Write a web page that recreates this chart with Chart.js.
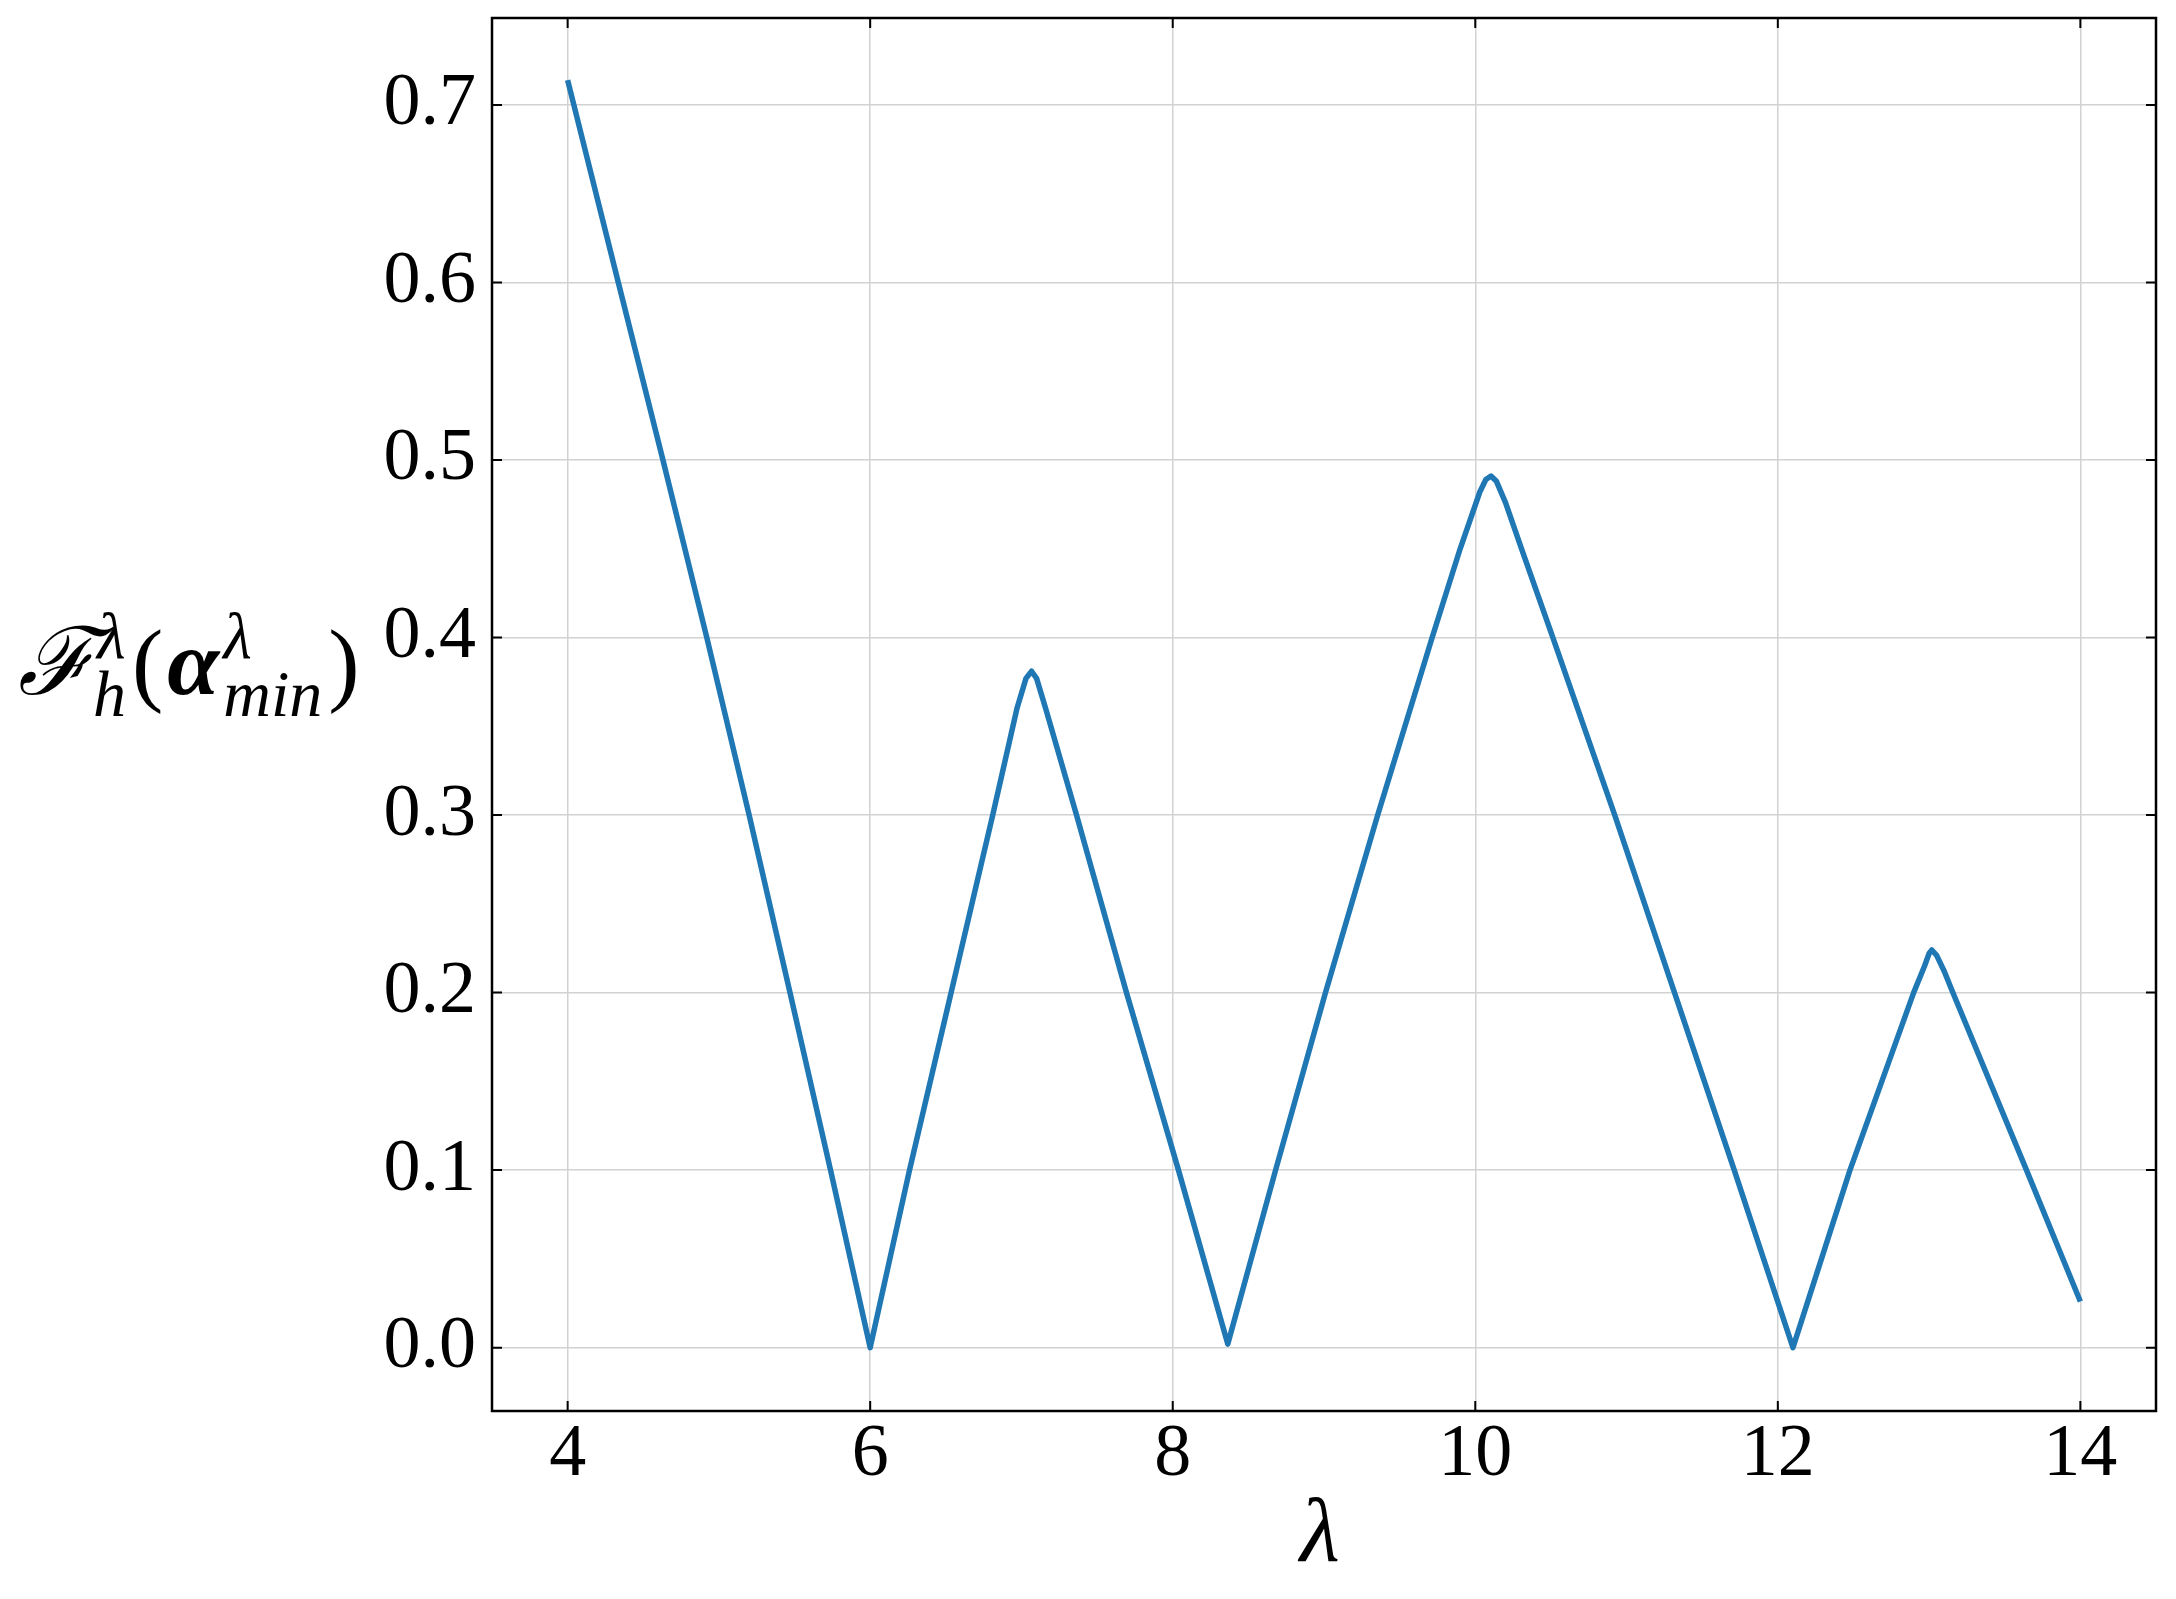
<!DOCTYPE html>
<html>
<head>
<meta charset="utf-8">
<script src="https://cdn.jsdelivr.net/npm/chart.js@4"></script>
<style>
  html, body { margin: 0; padding: 0; background: #fff; }
  #wrap { width: 2176px; height: 1599px; }
</style>
</head>
<body>
<div id="wrap"><canvas id="myLineChart" width="2176" height="1599"></canvas></div>
<script>
// values
const lambdaVals = [
  4.0, 4.335, 4.63, 4.92, 5.2, 5.47, 5.738, 6.0,
  6.26, 6.535, 6.81, 6.97, 7.03, 7.067, 7.1, 7.16,
  7.364, 7.694, 8.038, 8.364,
  8.68, 9.01, 9.355, 9.715, 9.9, 10.03, 10.07, 10.104, 10.14, 10.2,
  10.306, 10.513, 10.922, 11.317, 11.712, 12.1,
  12.477, 12.898, 12.97, 13.0, 13.018, 13.05, 13.1,
  13.157, 13.644, 14.0,
];
const fVals = [
  0.714, 0.6, 0.5, 0.4, 0.3, 0.2, 0.1, 0.0,
  0.1, 0.2, 0.3, 0.36, 0.377, 0.381, 0.377, 0.36,
  0.3, 0.2, 0.1, 0.002,
  0.1, 0.2, 0.3, 0.4, 0.45, 0.482, 0.489, 0.491, 0.488, 0.476,
  0.45, 0.4, 0.3, 0.2, 0.1, 0.0,
  0.1, 0.2, 0.215, 0.222, 0.224, 0.221, 0.212,
  0.2, 0.1, 0.026,
];
const xTicks = [4, 6, 8, 10, 12, 14];
const yTicks = [0.0, 0.1, 0.2, 0.3, 0.4, 0.5, 0.6, 0.7];

const serif = "'Liberation Serif', 'DejaVu Serif', serif";
const tickFont = { size: 74, family: serif };

// frame, inward tick marks and axis titles, matplotlib style
const framePlugin = {
  id: "frame",
  afterDraw(chart) {
    const ctx = chart.ctx;
    const a = chart.chartArea;
    const xs = chart.scales.x;
    const ys = chart.scales.y;
    ctx.save();
    ctx.strokeStyle = "#000";
    ctx.lineWidth = 2;
    xTicks.forEach((v) => {
      const px = xs.getPixelForValue(v);
      ctx.beginPath();
      ctx.moveTo(px, a.bottom); ctx.lineTo(px, a.bottom - 10);
      ctx.moveTo(px, a.top); ctx.lineTo(px, a.top + 10);
      ctx.stroke();
    });
    yTicks.forEach((v) => {
      const py = ys.getPixelForValue(v);
      ctx.beginPath();
      ctx.moveTo(a.left, py); ctx.lineTo(a.left + 10, py);
      ctx.moveTo(a.right, py); ctx.lineTo(a.right - 10, py);
      ctx.stroke();
    });
    ctx.lineWidth = 2.5;
    ctx.strokeRect(a.left, a.top, a.right - a.left, a.bottom - a.top);

    // x title
    ctx.fillStyle = "#000";
    ctx.textBaseline = "alphabetic";
    ctx.textAlign = "center";
    ctx.font = "italic 92px " + serif;
    ctx.fillText("λ", (a.left + a.right) / 2 - 4, 1561);

    // y title: F_h^λ(α_min^λ)
    ctx.textAlign = "left";
    const big = "94px " + serif;
    const small = "italic 66px " + serif;
    const base = 694;
    let x = 18;
    ctx.font = "italic " + big;
    ctx.fillText("ℱ", x, base);
    x += ctx.measureText("ℱ").width + 2;
    ctx.font = small;
    ctx.fillText("λ", x, base - 36);
    ctx.fillText("h", x - 4, base + 22);
    x += Math.max(ctx.measureText("λ").width, ctx.measureText("h").width - 4) + 6;
    ctx.font = big;
    ctx.fillText("(", x, base);
    x += ctx.measureText("(").width + 4;
    ctx.font = "italic bold " + big;
    ctx.fillText("α", x, base);
    x += ctx.measureText("α").width + 4;
    ctx.font = small;
    ctx.fillText("λ", x, base - 36);
    ctx.fillText("min", x, base + 22);
    x += ctx.measureText("min").width + 6;
    ctx.font = big;
    ctx.fillText(")", x, base);
    ctx.restore();
  },
};

const ctx = document.getElementById("myLineChart").getContext("2d");

const myLineChart = new Chart(ctx, {
  type: "line",
  data: {
    datasets: [
      {
        data: lambdaVals.map((v, i) => ({ x: v, y: fVals[i] })),
        borderColor: "#1f77b4",
        borderWidth: 5.5,
        pointRadius: 0,
        tension: 0,
        borderJoinStyle: "round",
        borderCapStyle: "butt",
        fill: false,
      },
    ],
  },
  options: {
    responsive: false,
    animation: false,
    layout: { padding: { top: 18, right: 20, left: 0, bottom: 0 } },
    plugins: {
      legend: { display: false },
      tooltip: { enabled: false },
    },
    scales: {
      x: {
        type: "linear",
        min: 3.5,
        max: 14.5,
        afterBuildTicks: (scale) => {
          scale.ticks = xTicks.map((v) => ({ value: v }));
        },
        afterFit: (scale) => {
          scale.height = 188;
          scale.paddingLeft = 0;
          scale.paddingRight = 0;
        },
        grid: {
          color: "#d2d2d2",
          lineWidth: 1.5,
          drawTicks: false,
        },
        border: { display: false },
        ticks: {
          font: tickFont,
          color: "#000",
          padding: 0,
          maxRotation: 0,
          callback: (v) => String(v),
        },
      },
      y: {
        min: -0.0357,
        max: 0.749,
        afterBuildTicks: (scale) => {
          scale.ticks = yTicks.map((v) => ({ value: v }));
        },
        afterFit: (scale) => {
          scale.width = 492;
          scale.paddingTop = 0;
          scale.paddingBottom = 0;
        },
        grid: {
          color: "#d2d2d2",
          lineWidth: 1.5,
          drawTicks: false,
        },
        border: { display: false },
        ticks: {
          font: tickFont,
          color: "#000",
          padding: 16,
          callback: (v) => v.toFixed(1),
        },
      },
    },
  },
  plugins: [framePlugin],
});
</script>
</body>
</html>
